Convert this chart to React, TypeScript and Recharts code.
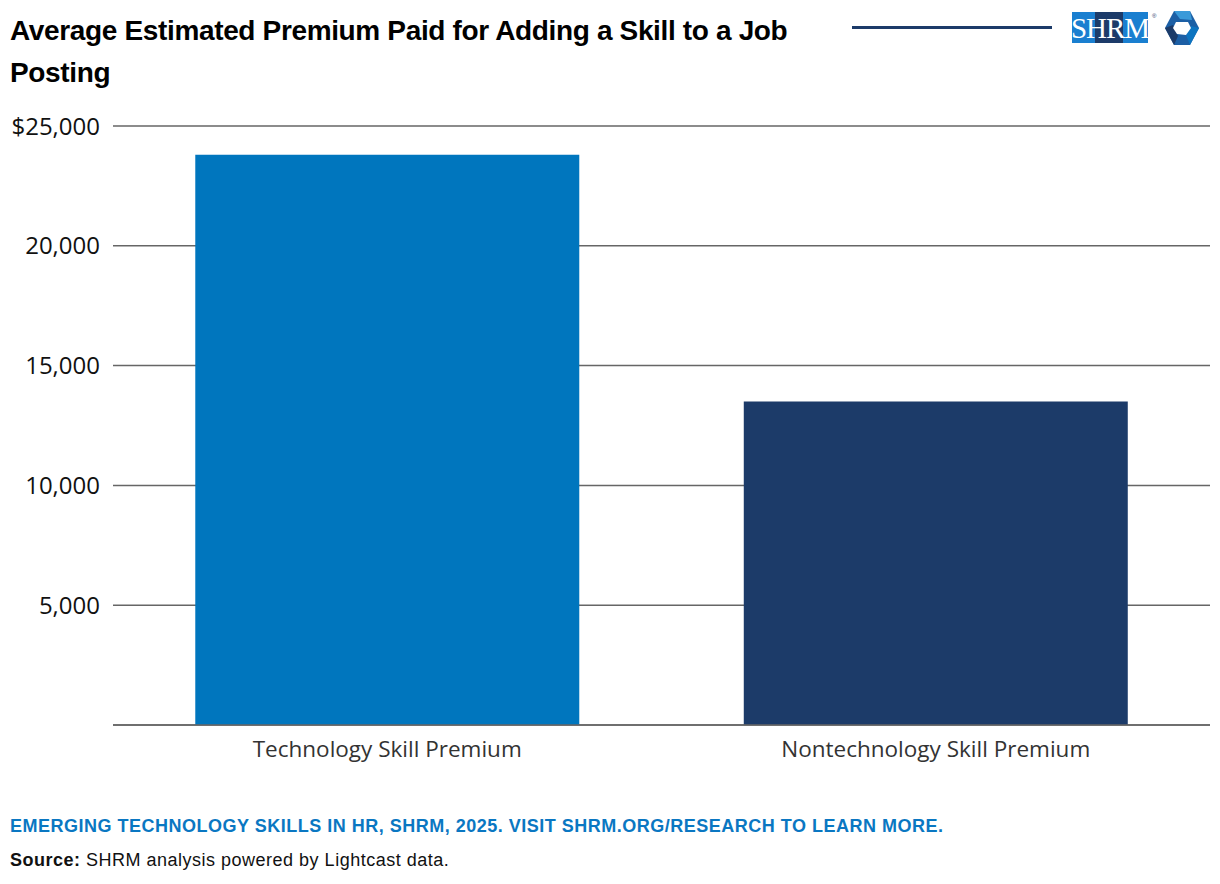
import { BarChart, Bar, XAxis, YAxis, CartesianGrid, Cell } from "recharts";

const categories = ["Technology Skill Premium", "Nontechnology Skill Premium"];
const premiums = [23800, 13500];
const barColors = ["#0076be", "#1c3b69"];
const yTicks = [0, 5000, 10000, 15000, 20000, 25000];

const data = categories.map((name, i) => ({ name, value: premiums[i] }));

const fmtTick = (v: number) => {
  if (v === 0) return "";
  const s = v.toLocaleString("en-US");
  return v === 25000 ? "$" + s : s;
};

function Logo() {
  return (
    <svg width={140} height={36} viewBox="0 0 140 36" style={{ position: "absolute", left: 1070, top: 10 }}>
      <rect x={2} y={2} width={23} height={31} fill="#1a7fd0" />
      <rect x={25} y={2} width={28} height={31} fill="#1c3b69" />
      <rect x={53} y={2} width={25} height={31} fill="#1a7fd0" />
      <text x={40} y={28} textAnchor="middle" fill="#fff" fontFamily="Liberation Serif" fontSize={29} letterSpacing={-1}>
        SHRM
      </text>
      <text x={82} y={8} fill="#1c3b69" fontSize={6} fontFamily="Liberation Sans">®</text>
      <g transform="translate(112,18)">
        <polygon points="-8,-17 8,-17 17,0 8,17 -8,17 -17,0" fill="#1c5fa5" />
        <polygon points="-8,-17 8,-17 10,-8 -2,-9" fill="#3a9ad9" />
        <polygon points="17,0 8,17 4,7 9,-2" fill="#0d74c0" />
        <polygon points="-8,17 -17,0 -9,-3 -4,8" fill="#1c3b69" />
        <polygon points="-6,-6 6,-6 9,0 4,7 -5,6 -9,0" fill="#fff" />
      </g>
    </svg>
  );
}

export default function App() {
  return (
    <div style={{ position: "absolute", left: 0, top: 0, width: 1220, height: 884, background: "#fff", overflow: "hidden" }}>
      <div
        style={{
          position: "absolute",
          left: 10,
          top: 10,
          width: 820,
          fontFamily: "Liberation Sans, Arial, sans-serif",
          fontWeight: 700,
          fontSize: 28,
          lineHeight: "42px",
          letterSpacing: -0.35,
          color: "#000",
        }}
      >
        Average Estimated Premium Paid for Adding a Skill to a Job Posting
      </div>
      <div style={{ position: "absolute", left: 852, top: 26, width: 200, height: 3, background: "#1c3b69" }} />
      <Logo />
      <div style={{ position: "absolute", left: 0, top: 0 }}>
        <BarChart
          width={1220}
          height={884}
          data={data}
          margin={{ top: 126, right: 10, bottom: 129, left: 10 }}
          barCategoryGap="15%"
        >
          <CartesianGrid vertical={false} stroke="#666" strokeWidth={1.5} />
          <XAxis
            dataKey="name"
            height={30}
            tickLine={false}
            tickSize={0}
            tickMargin={16}
            axisLine={{ stroke: "#666", strokeWidth: 1.5 }}
            tick={{ fontSize: 22.5, fill: "#333", fontFamily: "Open Sans, sans-serif" }}
          />
          <YAxis
            width={103}
            domain={[0, 25000]}
            ticks={yTicks}
            tickFormatter={fmtTick}
            axisLine={false}
            tickLine={false}
            tickSize={0}
            tickMargin={13}
            tick={{ fontSize: 24, fill: "#111", fontFamily: "Open Sans, sans-serif" }}
          />
          <Bar dataKey="value" isAnimationActive={false}>
            {data.map((d, i) => (
              <Cell key={d.name} fill={barColors[i]} />
            ))}
          </Bar>
        </BarChart>
      </div>
      <div
        style={{
          position: "absolute",
          left: 10,
          top: 816,
          fontFamily: "Liberation Sans, Arial, sans-serif",
          fontWeight: 700,
          fontSize: 18,
          letterSpacing: 0.5,
          color: "#0a77c2",
          whiteSpace: "nowrap",
        }}
      >
        EMERGING TECHNOLOGY SKILLS IN HR, SHRM, 2025. VISIT SHRM.ORG/RESEARCH TO LEARN MORE.
      </div>
      <div
        style={{
          position: "absolute",
          left: 10,
          top: 850,
          fontFamily: "Liberation Sans, Arial, sans-serif",
          fontSize: 18,
          letterSpacing: 0.5,
          color: "#111",
          whiteSpace: "nowrap",
        }}
      >
        <b>Source:</b> SHRM analysis powered by Lightcast data.
      </div>
    </div>
  );
}
